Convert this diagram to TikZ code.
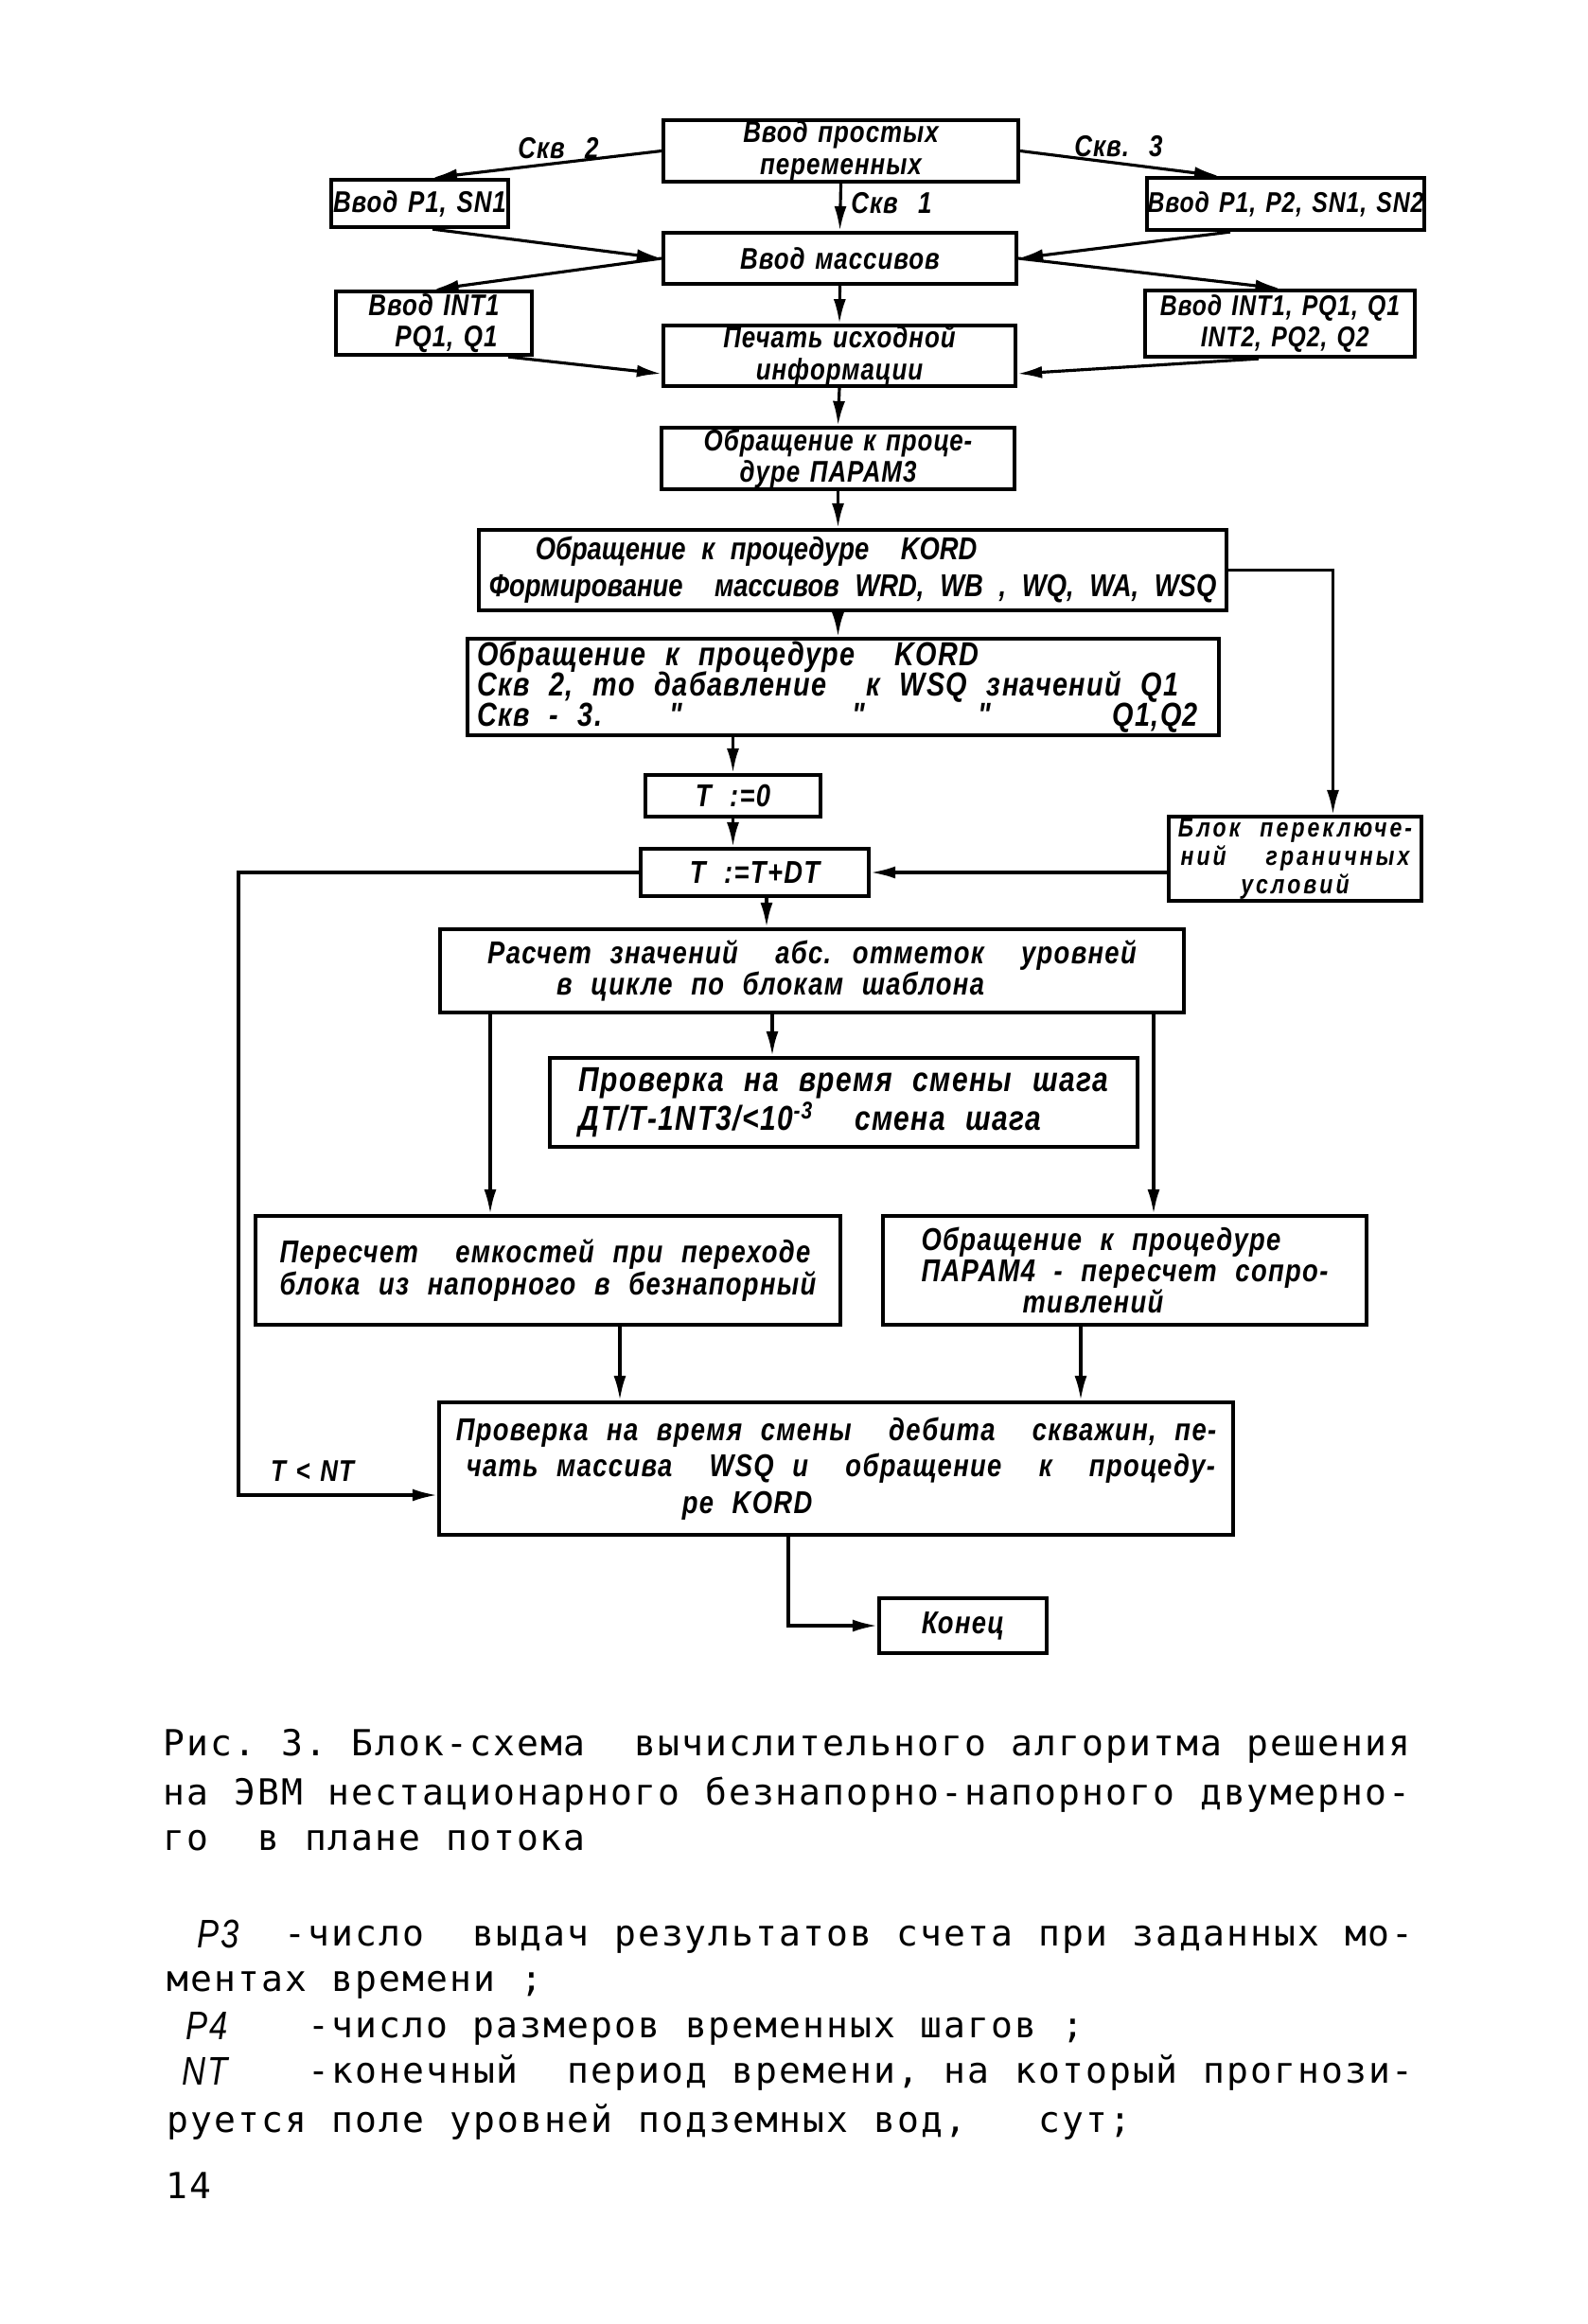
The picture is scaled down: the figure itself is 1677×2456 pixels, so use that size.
\documentclass[tikz,border=0pt]{standalone}
\usepackage{fontspec}
\usetikzlibrary{arrows.meta,calc}
\newfontfamily\hwfont[FakeStretch=0.82,LetterSpace=4,WordSpace=2.2]{Liberation Sans}
\newfontfamily\hwtfont[FakeStretch=0.82,LetterSpace=3,WordSpace=1.3]{Liberation Sans}
\newfontfamily\hwwfont[FakeStretch=0.82,LetterSpace=11,WordSpace=2.2]{Liberation Sans}
\newfontfamily\twfont[LetterSpace=5.4]{DejaVu Sans Mono}
\newcommand\hw{\hwfont\bfseries\itshape\fontsize{9.5}{9.5}\selectfont}
\newcommand\hwt{\hwtfont\bfseries\itshape\fontsize{9}{9.5}\selectfont}
\newcommand\hwbig{\hwfont\itshape\fontsize{12}{13}\selectfont}
\newcommand\capfont{\twfont\fontsize{10.8}{12}\selectfont\frenchspacing\spaceskip=7.66pt\relax}
\newcommand\tsp{\hspace*{7.08pt}}
\newcommand\kordfont{\hw\fontsize{10}{9}\selectfont\lineskiplimit=-5pt\relax}
\newcommand\blokfont{\hwwfont\bfseries\itshape\fontsize{8}{8.6}\selectfont\lineskiplimit=-5pt\relax}
\begin{document}
\begin{tikzpicture}[x=0.1mm,y=-0.1mm,
  box/.style={draw, line width=1.2pt, inner sep=0pt, font=\hw},
  tbox/.style={box, font=\hwt},
  arr/.style={line width=0.9pt, -{Latex[length=2.6mm,width=1.3mm]}},
  lbl/.style={font=\hwt, inner sep=0pt},
  capt/.style={anchor=base west, inner sep=0pt, font=\capfont},
  hwl/.style={anchor=base west, inner sep=0pt, font=\hwbig},
]
\useasboundingbox (0,0) rectangle (1677,2456);

% ---- boxes ----
\node[tbox, minimum width=37.5mm, minimum height=6.5mm, align=center] (top) at (888.5,159.5) {Ввод простых\\переменных};
\node[tbox, minimum width=18.7mm, minimum height=5mm] (p1) at (443.5,215) {Ввод P1, SN1};
\node[tbox, minimum width=29.3mm, minimum height=5.5mm, font=\hwt\fontsize{8.6}{9.5}\selectfont] (p2) at (1358.5,215.5) {Ввод P1, P2, SN1, SN2};
\node[tbox, minimum width=37.3mm, minimum height=5.4mm] (mass) at (887.5,273) {Ввод массивов};
\node[tbox, minimum width=20.7mm, minimum height=6.7mm, align=left] (int1) at (458.5,341.5) {Ввод INT1\\\hspace*{2.8mm}PQ1, Q1};
\node[tbox, minimum width=28.5mm, minimum height=7mm, align=left, font=\hwt\fontsize{8.6}{9.5}\selectfont] (int2) at (1352.5,342) {Ввод INT1, PQ1, Q1\\\hspace*{4.3mm}INT2, PQ2, Q2};
\node[tbox, minimum width=37.2mm, minimum height=6.2mm, align=center] (print) at (887,376) {Печать исходной\\информации};
\node[tbox, minimum width=37.3mm, minimum height=6.5mm, align=left] (param3) at (885.5,484.5) {Обращение к проце-\\\hspace*{3.8mm}дуре ПАРАМ3};
\node[box, minimum width=79mm, minimum height=8.5mm, align=left, font=\hw\addfontfeature{LetterSpace=0}\fontsize{9.5}{11}\selectfont] (kord1) at (901,602.5) {\hspace*{4.9mm}Обращение к процедуре\ \ KORD\\Формирование\ \ массивов WRD, WB , WQ, WA, WSQ};
\node[box, minimum width=79.4mm, minimum height=10.2mm, align=left, font=\kordfont] (kord2) at (891,726) {Обращение к процедуре\ \ KORD\\Скв 2, то дабавление\ \ к WSQ значений Q1\\\makebox[77.4mm][l]{\rlap{Скв - 3.}\hspace*{20.4mm}\rlap{"}\hspace*{19.2mm}\rlap{"}\hspace*{13.3mm}"\hfill Q1,Q2\hspace*{1.2mm}}};
\node[box, minimum width=18.5mm, minimum height=4.4mm] (t0) at (774.5,841) {T :=0};
\node[box, minimum width=24.1mm, minimum height=5mm] (tdt) at (797.5,922) {T :=T+DT};
\node[box, minimum width=26.7mm, minimum height=8.9mm, align=center, font=\blokfont] (blok) at (1368.5,907.5) {Блок переключе-\\ний\ \ граничных\\условий};
\node[box, minimum width=78.6mm, minimum height=8.8mm, align=left] (raschet) at (858,1026) {Расчет значений\ \ абс. отметок\ \ уровней\\\hspace*{7.3mm}в цикле по блокам шаблона};
\node[box, minimum width=62.1mm, minimum height=9.4mm, align=left, font=\hw\fontsize{10.4}{10.5}\selectfont] (shag) at (891.5,1165) {Проверка на время смены шага\\ДТ/Т-1NT3/<10\textsuperscript{-3}\ \ смена шага};
\node[box, minimum width=61.8mm, minimum height=11.5mm, align=left] (pereschet) at (579,1342.5) {Пересчет\ \ емкостей при переходе\\блока из напорного в безнапорный};
\node[box, minimum width=51.1mm, minimum height=11.5mm, align=left] (param4) at (1188.5,1342.5) {Обращение к процедуре\\ПАРАМ4 - пересчет сопро-\\\hspace*{10.7mm}тивлений};
\node[box, minimum width=83.9mm, minimum height=14mm, align=left, font=\hw\fontsize{9.5}{11}\selectfont] (debit) at (883.5,1552) {Проверка на время смены\ \ дебита\ \ скважин, пе-\\\hspace*{1.1mm}чать массива\ \ WSQ и\ \ обращение\ \ к\ \ процеду-\\\hspace*{23.9mm}ре KORD};
\node[box, minimum width=17.7mm, minimum height=5.8mm] (konec) at (1017.5,1718) {Конец};

% ---- labels ----
\node[lbl] (s2) at (590,157) {Скв\ \ 2};
\node[lbl] (s3) at (1182,155) {Скв.\ \ 3};
\node[lbl] (s1) at (942,215) {Скв\ \ 1};
\node[lbl] (tnt) at (330,1555) {T < NT};

% ---- connectors ----
\draw[arr] (top.west) -- ([xshift=1.35mm]p1.north);
\draw[arr] (top.east) -- ([xshift=-7.05mm]p2.north);
\draw[arr] (top.south) -- (mass.north);
\draw[arr] ([xshift=1.35mm]p1.south) -- (mass.west);
\draw[arr] ([xshift=-5.85mm]p2.south) -- (mass.east);
\draw[arr] (mass.west) -- (int1.north);
\draw[arr] (mass.east) -- (int2.north);
\draw[arr] ([xshift=7.85mm]int1.south) -- ([yshift=-1.9mm]print.west);
\draw[arr] ([xshift=-2.25mm]int2.south) -- ([yshift=-1.9mm]print.east);
\draw[arr] (mass.south) -- (print.north);
\draw[arr] (print.south) -- (param3.north);
\draw[arr] (param3.south) -- (param3.south |- kord1.north);
\draw[arr] (param3.south |- kord1.south) -- (param3.south |- kord2.north);
\draw[arr] (t0.north |- kord2.south) -- (t0.north);
\draw[arr] (t0.south) -- (t0.south |- tdt.north);
\draw[arr] ([xshift=1.25mm]tdt.south) -- ([xshift=1.25mm]tdt.south |- raschet.north);
\draw[arr] (kord1.east) -| ([xshift=4mm]blok.north);
\draw[arr] (tdt.east -| blok.west) -- (tdt.east);
\coordinate (lx) at (252,0);
\coordinate (dbin) at ([yshift=-2.8mm]debit.west);
\draw[arr] (tdt.west) -| (lx |- dbin) -- (dbin);
\draw[arr] ([xshift=-6.1mm]pereschet.north |- raschet.south) -- ([xshift=-6.1mm]pereschet.north);
\draw[arr] ([xshift=-7.55mm]shag.north |- raschet.south) -- ([xshift=-7.55mm]shag.north);
\draw[arr] ([xshift=3.05mm]param4.north |- raschet.south) -- ([xshift=3.05mm]param4.north);
\draw[arr] ([xshift=7.6mm]pereschet.south) -- ([xshift=7.6mm]pereschet.south |- debit.north);
\draw[arr] ([xshift=-4.65mm]param4.south) -- ([xshift=-4.65mm]param4.south |- debit.north);
\draw[arr] ([xshift=-5.05mm]debit.south) |- (konec.west);

% ---- caption ----
\node[capt] (c1) at (172,1855) {Рис. 3. Блок-схема\tsp{} вычислительного алгоритма решения};
\node[capt] (c2) at (172,1907) {на ЭВМ нестационарного безнапорно-напорного двумерно-};
\node[capt] (c3) at (172,1955) {го\tsp{} в плане потока};

\node[hwl] (n1) at (208,2058) {P3};
\node[capt] (b1) at (300,2056) {-число\tsp{} выдач результатов счета при заданных мо-};
\node[capt] (b2) at (176,2104) {ментах времени ;};
\node[hwl] (n2) at (196,2155) {P4};
\node[capt] (b3) at (325,2153) {-число размеров временных шагов ;};
\node[hwl] (n3) at (192,2203) {NT};
\node[capt] (b4) at (325,2201) {-конечный\tsp{} период времени, на который прогнози-};
\node[capt] (b5) at (176,2253) {руется поле уровней подземных вод,\tsp\tsp{} сут;};
\node[capt] (pg) at (175,2323) {14};
\end{tikzpicture}
\end{document}
